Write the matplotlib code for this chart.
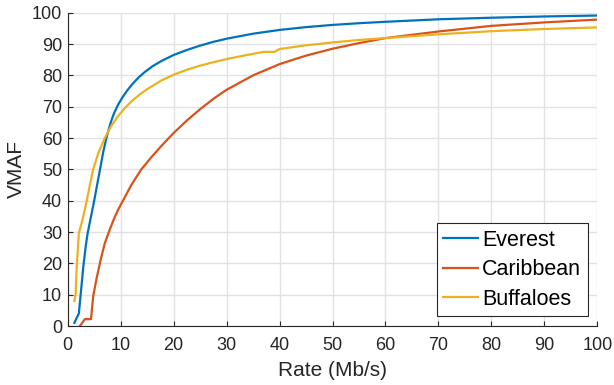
import matplotlib
matplotlib.use("Agg")
import matplotlib.pyplot as plt

plt.rcParams['font.family'] = ['Liberation Sans', 'DejaVu Sans']

# data
rate_ev = [1.25, 2.1, 2.5, 2.95, 3.4, 3.76, 4.4, 5.0, 5.5, 6.1, 6.7, 7.3, 8.0, 8.6, 9.4, 10.3, 11.2,
           12.2, 13.3, 14.5, 16, 17.7, 20, 22.5, 25, 27.5, 30, 35, 40, 45, 50, 55, 60, 70, 80, 90, 100]
vmaf_ev = [1.0, 4.0, 11, 19, 25.5, 29.6, 35, 40, 44.6, 50, 55.5, 60, 64.3, 67.3, 70.3, 72.9, 75.1,
           77.2, 79.2, 81.0, 82.9, 84.6, 86.5, 88.1, 89.5, 90.7, 91.7, 93.3, 94.5, 95.4, 96.1, 96.65, 97.1,
           97.9, 98.4, 98.8, 99.1]

rate_ca = [2.3, 3.25, 4.4, 4.8, 5.45, 6.2, 7.0, 7.9, 8.8, 9.6, 10.5, 12, 13.9, 15.8, 17.7, 20, 22.5,
           25, 27.5, 30, 35, 40, 45, 50, 55, 60, 70, 80, 90, 100]
vmaf_ca = [0, 2.2, 2.2, 9.4, 15.2, 21, 26.4, 30.6, 34.5, 37.4, 40.2, 45, 50, 53.9, 57.5, 61.6, 65.6,
           69.2, 72.5, 75.4, 80.0, 83.6, 86.3, 88.5, 90.3, 91.9, 94.0, 95.8, 96.9, 97.8]

rate_bu = [1.25, 1.5, 1.7, 2.1, 2.8, 3.6, 4.2, 4.8, 5.8, 7.0, 8.2, 9.5, 10.8, 12.3, 13.6, 15, 17.7,
           20, 22.5, 25, 27.5, 30, 33.5, 37, 39, 40, 45, 50, 55, 60, 70, 80, 90, 100]
vmaf_bu = [8, 10.4, 19, 29.6, 34, 40, 45.2, 50, 55.3, 60, 63.8, 67, 69.6, 72.1, 73.9, 75.6, 78.4,
           80.2, 81.8, 83.1, 84.2, 85.2, 86.4, 87.5, 87.5, 88.4, 89.6, 90.5, 91.3, 91.9, 93.1, 94.1, 94.8, 95.3]

names = ['Everest', 'Caribbean', 'Buffaloes']
colors = ['#0072BD', '#D95319', '#EDB120']

fig = plt.figure(figsize=(6.14, 3.85), dpi=100)
ax = fig.add_axes([0.1103, 0.1532, 0.8625, 0.8138])

ax.plot(rate_ev, vmaf_ev, color=colors[0], linewidth=1.6, label=names[0])
ax.plot(rate_ca, vmaf_ca, color=colors[1], linewidth=1.6, label=names[1])
ax.plot(rate_bu, vmaf_bu, color=colors[2], linewidth=1.6, label=names[2])

ax.set_xlim(0, 100)
ax.set_ylim(0, 100)
ax.set_xticks(range(0, 101, 10))
ax.set_yticks(range(0, 101, 10))
ax.grid(True, color='#e2e2e2', linewidth=1.0)
ax.set_axisbelow(True)
ax.tick_params(direction='in', labelsize=13, color='#262626', labelcolor='#262626', length=3.5)
ax.tick_params(axis='x', pad=8)
ax.tick_params(axis='y', pad=4)
ax.spines['top'].set_visible(False)
ax.spines['right'].set_visible(False)
for s in ['left', 'bottom']:
    ax.spines[s].set_color('#262626')
    ax.spines[s].set_linewidth(0.8)

ax.set_xlabel('Rate (Mb/s)', fontsize=15, labelpad=5, color='#262626')
ax.set_ylabel('VMAF', fontsize=15, labelpad=4, color='#262626')

leg = ax.legend(loc='lower right', fontsize=15.5, fancybox=False, framealpha=1,
                edgecolor='#262626', handlelength=1.6, borderaxespad=0.45,
                handletextpad=0.2, labelspacing=0.4, borderpad=0.3)
leg.get_frame().set_linewidth(0.8)

fig.savefig('out.png', dpi=100)
